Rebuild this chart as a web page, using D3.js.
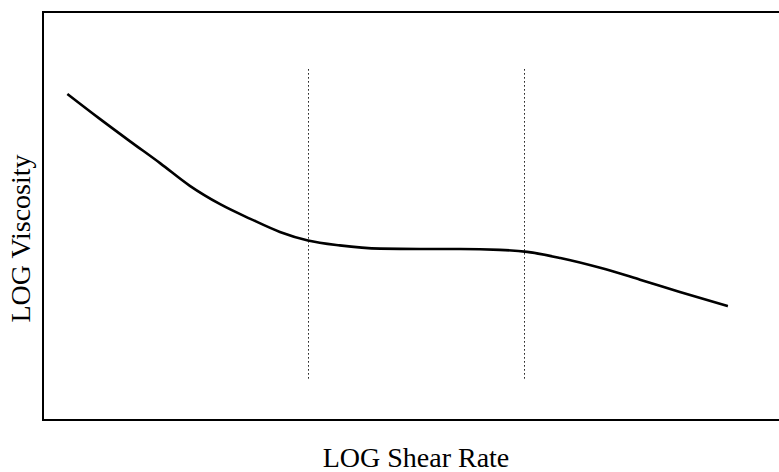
<!DOCTYPE html>
<html>
<head>
<meta charset="utf-8">
<script src="https://cdn.jsdelivr.net/npm/d3@7"></script>
<style>
  html, body { margin: 0; padding: 0; background: #fff; }
  svg { display: block; }
  text { font-family: "Liberation Serif", "Times New Roman", serif; fill: #000; }
</style>
</head>
<body>
<svg id="chart" width="779" height="472"></svg>
<script>
// Flow curve: log viscosity against log shear rate (arbitrary log units)
const shearRate = [0.33, 0.77, 1.18, 1.59, 1.99, 2.40, 2.81, 3.21, 3.59, 4.02, 4.57, 5.11, 5.65, 6.19, 6.56, 7.01, 7.55, 8.09, 8.63, 9.28];
const viscosity = [7.99, 7.38, 6.83, 6.29, 5.74, 5.29, 4.93, 4.61, 4.40, 4.28, 4.20, 4.19, 4.19, 4.17, 4.12, 3.97, 3.73, 3.44, 3.14, 2.79];

// Region boundaries (dotted verticals)
const regionBounds = [3.59, 6.52];
const regionSpan = [0.96, 8.60];

const xLabel = "LOG Shear Rate";
const yLabel = "LOG Viscosity";

const svg = d3.select("#chart");
const frame = { left: 43, right: 781, top: 12, bottom: 420 };

const x = d3.scaleLinear().domain([0, 10]).range([frame.left, frame.right]);
const y = d3.scaleLinear().domain([0, 10]).range([frame.bottom, frame.top]);

// Plot frame
svg.append("rect")
  .attr("x", x(0)).attr("y", y(10))
  .attr("width", x(10) - x(0)).attr("height", y(0) - y(10))
  .attr("fill", "none").attr("stroke", "#000").attr("stroke-width", 2);

// Dotted region boundaries
svg.selectAll("line.bound")
  .data(regionBounds)
  .join("line")
  .attr("class", "bound")
  .attr("x1", d => Math.round(x(d)) + 0.5).attr("x2", d => Math.round(x(d)) + 0.5)
  .attr("y1", y(regionSpan[1])).attr("y2", y(regionSpan[0]))
  .attr("stroke", "#111").attr("stroke-width", 1)
  .attr("stroke-dasharray", "1.5,2.5");

// Viscosity curve
const pts = shearRate.map((s, i) => [s, viscosity[i]]);
const line = d3.line()
  .x(d => x(d[0])).y(d => y(d[1]))
  .curve(d3.curveMonotoneX);

svg.append("path")
  .datum(pts)
  .attr("d", line)
  .attr("fill", "none")
  .attr("stroke", "#000")
  .attr("stroke-width", 2.6)
  .attr("stroke-linejoin", "round");

// Axis titles
svg.append("text")
  .attr("x", 416).attr("y", 467)
  .attr("text-anchor", "middle")
  .attr("font-size", 28)
  .text(xLabel);

svg.append("text")
  .attr("transform", "translate(30,238.5) rotate(-90)")
  .attr("text-anchor", "middle")
  .attr("font-size", 28)
  .text(yLabel);
</script>
</body>
</html>
